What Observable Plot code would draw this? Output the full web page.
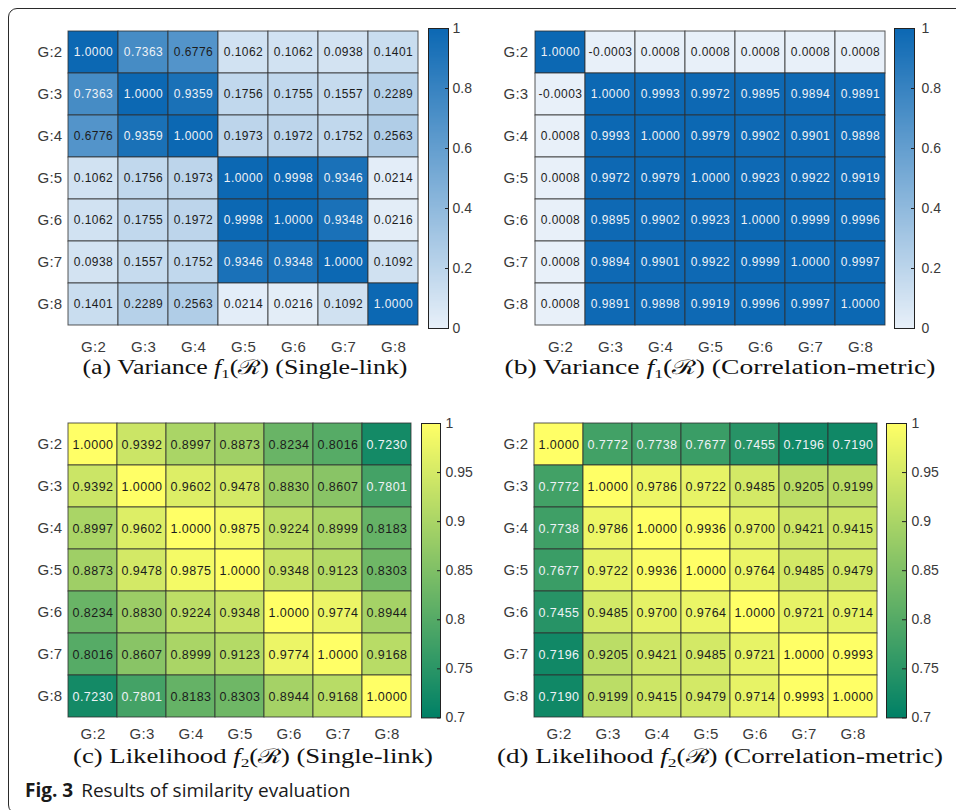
<!DOCTYPE html>
<html><head><meta charset="utf-8">
<script src="https://cdn.jsdelivr.net/npm/d3@7"></script>
<script src="https://cdn.jsdelivr.net/npm/@observablehq/plot@0.6"></script>
<style>
body{margin:0;background:#fff;}
#fig{position:relative;width:956px;height:810px;overflow:hidden;background:#fff;}
#frame{position:absolute;left:8px;top:8px;width:1000px;height:806px;border:1.3px solid #2a2a2a;border-radius:9px;box-sizing:border-box;}
.pl{position:absolute;}
#caps{position:absolute;left:0;top:0;}
</style></head>
<body><div id="fig"><div id="frame"></div>
<svg id="caps" width="956" height="810">
  <g font-family="'Liberation Serif','Times New Roman',serif" font-size="20" fill="#111">
    <text x="245" y="374" text-anchor="middle" textLength="325" lengthAdjust="spacingAndGlyphs">(a) Variance <tspan font-style="italic">f</tspan><tspan font-size="13" dy="4">1</tspan><tspan dy="-4">(ℛ) (Single-link)</tspan></text>
    <text x="720" y="374" text-anchor="middle" textLength="431" lengthAdjust="spacingAndGlyphs">(b) Variance <tspan font-style="italic">f</tspan><tspan font-size="13" dy="4">1</tspan><tspan dy="-4">(ℛ) (Correlation-metric)</tspan></text>
    <text x="253" y="763" text-anchor="middle" textLength="360" lengthAdjust="spacingAndGlyphs">(c) Likelihood <tspan font-style="italic">f</tspan><tspan font-size="13" dy="4">2</tspan><tspan dy="-4">(ℛ) (Single-link)</tspan></text>
    <text x="720" y="763" text-anchor="middle" textLength="446" lengthAdjust="spacingAndGlyphs">(d) Likelihood <tspan font-style="italic">f</tspan><tspan font-size="13" dy="4">2</tspan><tspan dy="-4">(ℛ) (Correlation-metric)</tspan></text>
  </g>
  <text x="25" y="797" font-family="'Open Sans',sans-serif" font-size="19" fill="#1a1a1a"><tspan font-weight="bold">Fig. 3</tspan><tspan dx="8">Results of similarity evaluation</tspan></text>
</svg>
</div>
<script>
const groups = ["G:2","G:3","G:4","G:5","G:6","G:7","G:8"];

const varianceSingle = [
  [1.0000,0.7363,0.6776,0.1062,0.1062,0.0938,0.1401],
  [0.7363,1.0000,0.9359,0.1756,0.1755,0.1557,0.2289],
  [0.6776,0.9359,1.0000,0.1973,0.1972,0.1752,0.2563],
  [0.1062,0.1756,0.1973,1.0000,0.9998,0.9346,0.0214],
  [0.1062,0.1755,0.1972,0.9998,1.0000,0.9348,0.0216],
  [0.0938,0.1557,0.1752,0.9346,0.9348,1.0000,0.1092],
  [0.1401,0.2289,0.2563,0.0214,0.0216,0.1092,1.0000]
];
const varianceCorr = [
  [1.0000,-0.0003,0.0008,0.0008,0.0008,0.0008,0.0008],
  [-0.0003,1.0000,0.9993,0.9972,0.9895,0.9894,0.9891],
  [0.0008,0.9993,1.0000,0.9979,0.9902,0.9901,0.9898],
  [0.0008,0.9972,0.9979,1.0000,0.9923,0.9922,0.9919],
  [0.0008,0.9895,0.9902,0.9923,1.0000,0.9999,0.9996],
  [0.0008,0.9894,0.9901,0.9922,0.9999,1.0000,0.9997],
  [0.0008,0.9891,0.9898,0.9919,0.9996,0.9997,1.0000]
];
const likelihoodSingle = [
  [1.0000,0.9392,0.8997,0.8873,0.8234,0.8016,0.7230],
  [0.9392,1.0000,0.9602,0.9478,0.8830,0.8607,0.7801],
  [0.8997,0.9602,1.0000,0.9875,0.9224,0.8999,0.8183],
  [0.8873,0.9478,0.9875,1.0000,0.9348,0.9123,0.8303],
  [0.8234,0.8830,0.9224,0.9348,1.0000,0.9774,0.8944],
  [0.8016,0.8607,0.8999,0.9123,0.9774,1.0000,0.9168],
  [0.7230,0.7801,0.8183,0.8303,0.8944,0.9168,1.0000]
];
const likelihoodCorr = [
  [1.0000,0.7772,0.7738,0.7677,0.7455,0.7196,0.7190],
  [0.7772,1.0000,0.9786,0.9722,0.9485,0.9205,0.9199],
  [0.7738,0.9786,1.0000,0.9936,0.9700,0.9421,0.9415],
  [0.7677,0.9722,0.9936,1.0000,0.9764,0.9485,0.9479],
  [0.7455,0.9485,0.9700,0.9764,1.0000,0.9721,0.9714],
  [0.7196,0.9205,0.9421,0.9485,0.9721,1.0000,0.9993],
  [0.7190,0.9199,0.9415,0.9479,0.9714,0.9993,1.0000]
];

const blueDomain = [0, 1];
const blueRange = ["#e8f0f9", "#0c68b3"];
const blueTicks = [0, 0.2, 0.4, 0.6, 0.8, 1];
const greenDomain = [0.7, 1];
const greenRange = ["#008066", "#ffff66"];
const greenTicks = [0.7, 0.75, 0.8, 0.85, 0.9, 0.95, 1];

const fig = document.getElementById("fig");
const font = "'Liberation Sans', Arial, Helvetica, sans-serif";

function place(node, left, top, width) {
  const d = document.createElement("div");
  d.className = "pl";
  d.style.left = left + "px"; d.style.top = top + "px"; d.style.width = width + "px";
  d.appendChild(node);
  fig.appendChild(d);
}

function styleTexts(svg, sel, size, spacing) {
  svg.querySelectorAll(sel).forEach(g => {
    g.style.setProperty("font-size", size + "px", "important");
    g.querySelectorAll("text").forEach(t => {
      t.style.setProperty("font-size", size + "px", "important");
      if (spacing) t.style.setProperty("letter-spacing", spacing + "px");
    });
  });
}

function heatmap(matrix, o) {
  const data = [];
  matrix.forEach((row, i) => row.forEach((v, j) => data.push({row: groups[i], col: groups[j], v})));
  const p = Plot.plot({
    width: o.width, height: o.height,
    marginLeft: o.mL, marginRight: o.mR, marginTop: o.mT, marginBottom: o.mB,
    style: {fontFamily: font, color: "#3a3a3a", background: "transparent", overflow: "visible"},
    x: {domain: groups, padding: 0},
    y: {domain: groups, padding: 0},
    color: {type: "linear", domain: o.domain, range: o.range, clamp: true},
    marks: [
      Plot.cell(data, {x: "col", y: "row", fill: "v", inset: 0, stroke: "#2e2e2e", strokeWidth: 1, strokeOpacity: 0.8}),
      Plot.text(data, {x: "col", y: "row", text: d => d.v.toFixed(4), filter: d => !o.light(d.v), fill: "#1c1c1c", fontSize: o.fs}),
      Plot.text(data, {x: "col", y: "row", text: d => d.v.toFixed(4), filter: d => o.light(d.v), fill: "#eef2f6", fontSize: o.fs}),
      Plot.axisX({anchor: "bottom", tickSize: 0, tickPadding: o.pad, label: null}),
      Plot.axisY({anchor: "left", tickSize: 0, tickPadding: 4, label: null})
    ]
  });
  styleTexts(p, 'g[aria-label*="axis"]', 15, 0.3);
  styleTexts(p, 'g[aria-label="text"]', o.fs, 0.45);
  place(p, o.left, o.top, o.width);
}

function colorbar(o) {
  const p = Plot.plot({
    width: o.width, height: o.height,
    marginLeft: o.mL, marginRight: o.mR, marginTop: o.mT, marginBottom: o.mB,
    style: {fontFamily: font, color: "#3a3a3a", background: "transparent", overflow: "visible"},
    x: {domain: [0, 1], axis: null},
    y: {domain: o.domain, axis: null},
    color: {type: "linear", domain: o.domain, range: o.range},
    marks: [
      Plot.raster({x1: 0, x2: 1, y1: o.domain[0], y2: o.domain[1], width: 1, height: 256, fill: (x, y) => y, imageRendering: "auto"}),
      Plot.frame({stroke: "#222", strokeWidth: 1}),
      Plot.tickY(o.ticks, {y: d => d, stroke: "#222", insetLeft: o.mLtick}),
      Plot.axisY(o.ticks, {anchor: "right", tickSize: 0, tickPadding: o.pad, tickFormat: d => String(d), label: null})
    ]
  });
  styleTexts(p, 'g[aria-label*="axis"]', 14, 0);
  place(p, o.left, o.top, o.width);
}

const blueLight = v => v > 0.7;
const greenLight = v => v < 0.8;

heatmap(varianceSingle, {left: 0, top: 0, width: 424, height: 360, mL: 66, mR: 5, mT: 28, mB: 32, domain: blueDomain, range: blueRange, light: blueLight, fs: 12, pad: 13});
colorbar({left: 400, top: 0, width: 100, height: 360, mL: 28, mR: 52, mT: 28, mB: 32, domain: blueDomain, range: blueRange, ticks: blueTicks, pad: 4, mLtick: 17});

heatmap(varianceCorr, {left: 480, top: 0, width: 412, height: 360, mL: 52, mR: 5, mT: 28, mB: 32, domain: blueDomain, range: blueRange, light: blueLight, fs: 12, pad: 13});
colorbar({left: 866, top: 0, width: 90, height: 360, mL: 28, mR: 42, mT: 28, mB: 32, domain: blueDomain, range: blueRange, ticks: blueTicks, pad: 7, mLtick: 17});

heatmap(likelihoodSingle, {left: 0, top: 395, width: 418, height: 360, mL: 66, mR: 5, mT: 28, mB: 37.6, domain: greenDomain, range: greenRange, light: greenLight, fs: 12.5, pad: 10});
colorbar({left: 400, top: 395, width: 100, height: 360, mL: 21, mR: 60, mT: 28, mB: 37.6, domain: greenDomain, range: greenRange, ticks: greenTicks, pad: 5, mLtick: 16});

heatmap(likelihoodCorr, {left: 480, top: 395, width: 404, height: 360, mL: 52, mR: 5, mT: 28, mB: 37.6, domain: greenDomain, range: greenRange, light: greenLight, fs: 12.5, pad: 10});
colorbar({left: 866, top: 395, width: 90, height: 360, mL: 20, mR: 50, mT: 28, mB: 37.6, domain: greenDomain, range: greenRange, ticks: greenTicks, pad: 5, mLtick: 16});
</script>
</body></html>
